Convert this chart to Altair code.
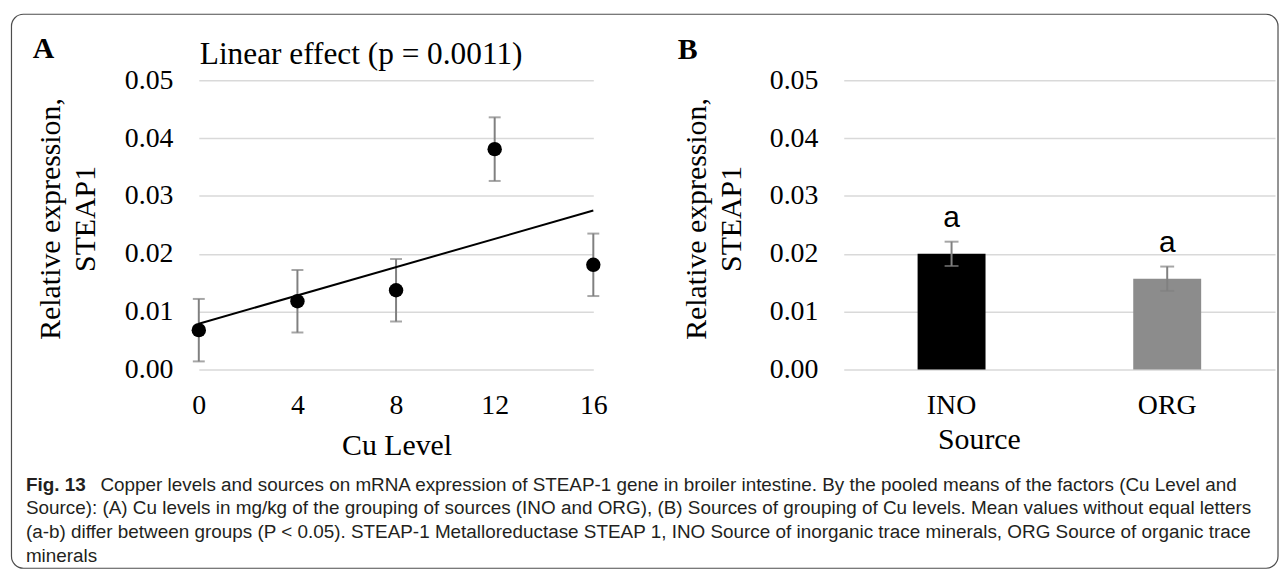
import altair as alt
import pandas as pd

# ---------------- data ----------------
levels = [0, 4, 8, 12, 16]
level_means = [0.0068, 0.0118, 0.0137, 0.0381, 0.0181]
level_se = [0.0054, 0.0054, 0.0054, 0.0055, 0.0054]

sources = ["INO", "ORG"]
source_means = [0.0200, 0.0157]
source_se = [0.0021, 0.0021]
source_letters = ["a", "a"]

y_ticks = [0.0, 0.01, 0.02, 0.03, 0.04, 0.05]

panel_a_label = "A"
panel_b_label = "B"
panel_a_title = "Linear effect (p = 0.0011)"
y_title = ["Relative expression,", "STEAP1"]

caption_bold = "Fig. 13"
caption_first = ("Copper levels and sources on mRNA expression of STEAP-1 gene in broiler intestine. "
                 "By the pooled means of the factors (Cu Level and")
caption_rest = [
    "Source): (A) Cu levels in mg/kg of the grouping of sources (INO and ORG), (B) Sources of grouping of Cu levels. Mean values without equal letters",
    "(a-b) differ between groups (P < 0.05). STEAP-1 Metalloreductase STEAP 1, INO Source of inorganic trace minerals, ORG Source of organic trace",
    "minerals",
]

SERIF = "Liberation Serif"
SANS = "Liberation Sans"

W_A, W_B, H = 397, 434, 291
GAP = 252

dfA = pd.DataFrame({"level": levels, "mean": level_means, "se": level_se})
dfA["lo"] = dfA["mean"] - dfA["se"]
dfA["hi"] = dfA["mean"] + dfA["se"]

dfB = pd.DataFrame({"source": sources, "mean": source_means, "se": source_se,
                    "letter": source_letters})
dfB["lo"] = dfB["mean"] - dfB["se"]
dfB["hi"] = dfB["mean"] + dfB["se"]


def y_axis(title_x):
    return alt.Axis(values=y_ticks, format=".2f", title=y_title, titleX=title_x, titleY=139,
                    titleAngle=270, titleAlign="center", titleBaseline="middle",
                    titleLineHeight=35, labelPadding=26, labelFlush=False, grid=True)


yscale = alt.Scale(domain=[0, 0.05], nice=False, zero=True)

# ---------------- panel A ----------------
xA_axis = alt.Axis(values=levels, format="d", title="Cu Level", grid=False, labelPadding=22,
                   labelFlush=False, titleX=199, titleY=77, titleBaseline="middle",
                   titleAlign="center")
xA_scale = alt.Scale(domain=[0, 16], nice=False, zero=False)


def xA(field="level"):
    return alt.X(f"{field}:Q", scale=xA_scale, axis=xA_axis)


def yA(field):
    return alt.Y(f"{field}:Q", scale=yscale, axis=y_axis(-149))


errA = alt.Chart(dfA).mark_errorbar(ticks=True, size=12, thickness=2, color="#808080").encode(
    x=xA(), y=yA("lo"), y2="hi:Q")

trend = alt.Chart(dfA).transform_regression("level", "mean", extent=[0, 16]).mark_line(
    color="black", strokeWidth=2).encode(x=xA(), y=yA("mean"))

pts = alt.Chart(dfA).mark_circle(size=210, color="black", opacity=1).encode(
    x=xA(), y=yA("mean"))

labA = alt.Chart(pd.DataFrame({"t": [panel_a_label]})).mark_text(
    font=SERIF, fontSize=30, fontWeight="bold", align="left", baseline="alphabetic",
    color="black").encode(text="t:N", x=alt.value(-167), y=alt.value(-22))

ttl = alt.Chart(pd.DataFrame({"t": [panel_a_title]})).mark_text(
    font=SERIF, fontSize=31.5, align="left", baseline="alphabetic", color="black").encode(
    text="t:N", x=alt.value(1), y=alt.value(-16.5))

frame = alt.Chart(pd.DataFrame({"k": [0]})).mark_rect(
    filled=False, color="#4d4d4d", strokeWidth=1.2, cornerRadius=12).encode(
    x=alt.value(-188.5), x2=alt.value(1086), y=alt.value(-66.5), y2=alt.value(491))

# ---------------- caption (drawn below panel A, own y scale) ----------------
cap_scale = alt.Scale(domain=[0, 3], range=[413, 484.5])
cap_color = "#231f20"
CAP_FS = 19

cap0b = alt.Chart(pd.DataFrame({"line": [0], "t": [caption_bold]})).mark_text(
    font=SANS, fontSize=CAP_FS, fontWeight="bold", align="left", baseline="alphabetic",
    color=cap_color).encode(y=alt.Y("line:Q", scale=cap_scale, axis=None), text="t:N",
                            x=alt.value(-174))

cap0 = alt.Chart(pd.DataFrame({"line": [0], "t": [caption_first]})).mark_text(
    font=SANS, fontSize=CAP_FS, align="left", baseline="alphabetic", color=cap_color).encode(
    y=alt.Y("line:Q", scale=cap_scale, axis=None), text="t:N", x=alt.value(-99))

capR = alt.Chart(pd.DataFrame({"line": [1, 2, 3], "t": caption_rest})).mark_text(
    font=SANS, fontSize=CAP_FS, align="left", baseline="alphabetic", color=cap_color).encode(
    y=alt.Y("line:Q", scale=cap_scale, axis=None), text="t:N", x=alt.value(-174))

mainA = alt.layer(frame, errA, trend, pts, labA, ttl)
captionL = alt.layer(cap0b, cap0, capR)
panelA = alt.layer(mainA, captionL).resolve_scale(y="independent").properties(
    width=W_A, height=H)

# ---------------- panel B ----------------
xB_axis = alt.Axis(title="Source", labelAngle=0, labelPadding=22, titleX=136, titleY=71,
                   titleBaseline="middle", titleAlign="center")
xB_scale = alt.Scale(domain=sources, paddingInner=0.685, paddingOuter=0.3425)


def xB():
    return alt.X("source:N", sort=sources, scale=xB_scale, axis=xB_axis)


def yB(field):
    return alt.Y(f"{field}:Q", scale=yscale, axis=y_axis(-148))


bars = alt.Chart(dfB).mark_bar().encode(
    x=xB(), y=yB("mean"),
    color=alt.Color("source:N", scale=alt.Scale(domain=sources, range=["#000000", "#8c8c8c"]),
                    legend=None))

errB = alt.Chart(dfB).mark_errorbar(ticks=True, size=14, thickness=2, color="#808080").encode(
    x=xB(), y=yB("lo"), y2="hi:Q")

letters = alt.Chart(dfB).mark_text(font=SANS, fontSize=30, baseline="alphabetic", dy=-15,
                                   color="black").encode(x=xB(), y=yB("hi"), text="letter:N")

labB = alt.Chart(pd.DataFrame({"t": [panel_b_label]})).mark_text(
    font=SERIF, fontSize=30, fontWeight="bold", align="left", baseline="alphabetic",
    color="black").encode(text="t:N", x=alt.value(-167), y=alt.value(-21))

panelB = alt.layer(bars, errB, letters, labB).properties(width=W_B, height=H)

chart = alt.hconcat(panelA, panelB, spacing=GAP, bounds="flush").properties(
    padding={"left": 2, "top": 3, "right": 0, "bottom": 0}
).configure_view(stroke=None).configure_axis(
    labelFont=SERIF, titleFont=SERIF, labelFontSize=28, titleFontSize=30,
    labelColor="black", titleColor="black", titleFontWeight="normal",
    domain=False, ticks=False, gridColor="#d9d9d9", gridWidth=1.5
)

chart.save("out.html", embed_options={"renderer": "svg", "actions": False})
